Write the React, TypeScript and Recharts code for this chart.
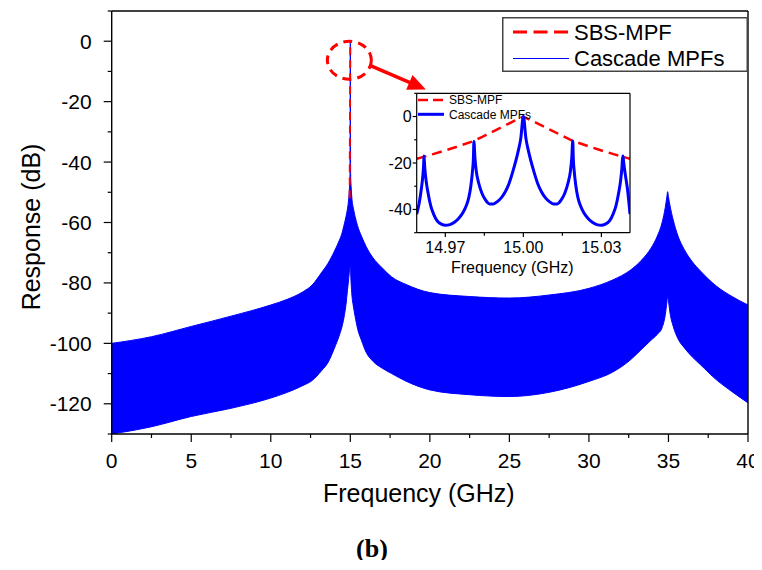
import React from 'react';
import { ComposedChart, Area, Line, XAxis, YAxis, ReferenceDot, ReferenceLine, Legend } from 'recharts';

// ---------- main plot data ----------
const freqGHz = [0, 2.5, 5, 7.5, 10, 11, 12, 12.6, 13.2, 13.6, 14.0, 14.3, 14.45, 14.6, 14.73, 14.82, 14.9, 14.95, 14.98, 15.0, 15.02, 15.05, 15.1, 15.2, 15.3, 15.45, 15.7, 16.0, 16.4, 17.0, 17.6, 18.5, 20, 22.5, 25, 27.5, 30, 31.5, 32.6, 33.3, 33.9, 34.3, 34.6, 34.8, 34.9, 34.95, 35.0, 35.1, 35.3, 35.6, 36.0, 36.5, 37.0, 38, 39, 40];
const cascadeUpperDb = [-100, -97.8, -94.4, -91, -87.3, -85.5, -83, -80.7, -76.5, -73.5, -69.5, -66, -64, -61, -58, -55.5, -52, -48, -44, 0, -44, -48, -52, -55.5, -58, -61, -64.5, -68, -71.5, -75, -78, -80.5, -83.2, -84.5, -85, -84, -81.8, -79, -75.8, -72.5, -68.5, -64.5, -60, -55, -51.5, -49.8, -51.5, -54.5, -59.2, -64.5, -69, -73, -76, -81, -84.5, -87.3];
const cascadeLowerDb = [-130, -127.6, -124.2, -121.5, -118.1, -116.3, -114, -112.3, -109, -106.3, -101.6, -97.5, -95, -91.5, -87, -82.5, -78.5, -75.8, -74.8, -74.5, -76.5, -80, -84, -88, -91, -95, -99, -103, -105.8, -108.2, -110, -112.5, -115.4, -117, -117.6, -116.2, -112.6, -109.5, -105.5, -102, -99, -97, -94.8, -90.5, -86.5, -84.5, -86, -90, -94.4, -98.5, -101.5, -104.5, -107, -112, -116, -119.7];
const sbsMainFreqGHz = [14.96, 15.0];
const sbsMainDb = [-52, 0];

const mainXMajorTicks = [0, 5, 10, 15, 20, 25, 30, 35, 40];
const mainXMinorTicks = [2.5, 7.5, 12.5, 17.5, 22.5, 27.5, 32.5, 37.5];
const mainYMajorTicks = [0, -20, -40, -60, -80, -100, -120];
const mainYMinorTicks = [10, -10, -30, -50, -70, -90, -110, -130];
const mainTopTicks = [4, 8, 12, 16, 20, 24, 28, 32, 36];
const mainRightTicks = [-4, -18, -32, -46, -60, -74, -88, -102, -116];

// ---------- inset data ----------
const insetCascadeFreqGHz = [
  14.959, 14.96, 14.9608, 14.9614, 14.9617, 14.9618, 14.9621, 14.9626, 14.9633, 14.9644, 14.9655, 14.9668, 14.9685, 14.970, 14.9718, 14.9735, 14.9752, 14.9768, 14.978, 14.979, 14.9798, 14.9804, 14.9808, 14.981,
  14.9814, 14.9819, 14.9828, 14.984, 14.9855, 14.987, 14.9885, 14.990, 14.9915, 14.993, 14.9945, 14.996, 14.998, 14.999, 15.0,
  15.001, 15.002, 15.004, 15.0055, 15.007, 15.0085, 15.010, 15.0115, 15.013, 15.0145, 15.016, 15.0172, 15.0181, 15.0186, 15.019,
  15.0192, 15.0196, 15.0202, 15.021, 15.022, 15.0232, 15.0248, 15.0265, 15.0282, 15.030, 15.0315, 15.0332, 15.0345, 15.0356, 15.0367, 15.0374, 15.0379, 15.0382, 15.0383, 15.0386, 15.0392, 15.040, 15.041,
];
const insetCascadeDb = [
  -42, -37, -31, -25, -20, -17, -22, -27.5, -32.5, -38.5, -42, -44.8, -46.3, -46.8, -46.5, -45.5, -43.8, -41.3, -38.5, -35, -30, -24, -18, -10.7,
  -18, -23.5, -28.5, -32.8, -36, -37.6, -37.6, -36.6, -35, -32.5, -28.8, -23.5, -15, -9.5, 0,
  -9.5, -15, -23.5, -28.8, -32.5, -35, -36.6, -37.6, -37.6, -36, -32.8, -28.5, -23.5, -18, -10.5,
  -18, -24, -30, -35, -38.5, -41.3, -43.8, -45.5, -46.5, -46.8, -46.3, -44.8, -42, -38.5, -32.5, -27.5, -22, -17, -17, -20, -25, -31, -42,
];
const insetSbsFreqGHz = [14.959, 14.965, 14.970, 14.975, 14.981, 14.985, 14.990, 14.995, 15.0, 15.005, 15.010, 15.015, 15.019, 15.025, 15.030, 15.035, 15.041];
const insetSbsDb = [-18.2, -16.3, -14.6, -12.8, -10.5, -8.3, -5.5, -2.7, 0, -2.7, -5.5, -8.3, -10.5, -12.8, -14.6, -16.3, -18.2];

const insetXMajorTicks = [14.97, 15.0, 15.03];
const insetXMinorTicks = [14.985, 15.015];
const insetYMajorTicks = [0, -20, -40];
const insetYMinorTicks = [10, -10, -30, -50];
const insetRightTicks = [5, 0, -5, -10, -15, -20, -25, -30, -35, -40, -45];

const seriesNames = ['SBS-MPF', 'Cascade MPFs'];
const RED = '#ff0000';
const BLUE = '#0000ff';
const FONT = '"Liberation Sans", Arial, Helvetica, sans-serif';

const bandData = freqGHz.map((f, i) => ({ f, band: [cascadeLowerDb[i], cascadeUpperDb[i]] }));
const sbsMainData = sbsMainFreqGHz.map((f, i) => ({ f, db: sbsMainDb[i] }));
const insetCascadeData = insetCascadeFreqGHz.map((f, i) => ({ f, db: insetCascadeDb[i] }));
const insetSbsData = insetSbsFreqGHz.map((f, i) => ({ f, db: insetSbsDb[i] }));

const isIn = (arr: number[], v: number) => arr.some((m) => Math.abs(m - v) < 1e-9);

const makeBottomTick = (majors: number[], majorLen: number, minorLen: number, fs: number, topGap: number, digits: number) => (props: any) => {
  const { x, y, payload } = props;
  const v = payload.value;
  const major = isIn(majors, v);
  return (
    <g>
      <line x1={x} x2={x} y1={y} y2={y + (major ? majorLen : minorLen)} stroke="#000" strokeWidth={1.2} />
      {major && (
        <text x={x} y={y + topGap + 0.716 * fs} textAnchor="middle" fontSize={fs} fontFamily={FONT} fill="#000">
          {v.toFixed(digits)}
        </text>
      )}
    </g>
  );
};

const makeLeftTick = (majors: number[], majorLen: number, minorLen: number, fs: number, gap: number) => (props: any) => {
  const { x, y, payload } = props;
  const v = payload.value;
  const major = isIn(majors, v);
  return (
    <g>
      <line x1={x} x2={x - (major ? majorLen : minorLen)} y1={y} y2={y} stroke="#000" strokeWidth={1.2} />
      {major && (
        <text x={x - gap} y={y + 0.358 * fs} textAnchor="end" fontSize={fs} fontFamily={FONT} fill="#000">
          {String(v)}
        </text>
      )}
    </g>
  );
};

const makeTopTick = (len: number) => (props: any) => {
  const { x, y } = props;
  return <line x1={x} x2={x} y1={y} y2={y + len} stroke="#555" strokeWidth={1} />;
};
const makeRightTick = (len: number) => (props: any) => {
  const { x, y } = props;
  return <line x1={x} x2={x - len} y1={y} y2={y} stroke="#555" strokeWidth={1} />;
};

const EllipseShape = (props: any) => (
  <ellipse cx={props.cx} cy={props.cy} rx={22} ry={19} fill="none" stroke={RED} strokeWidth={3} strokeDasharray="9 6" />
);

const ArrowShape = (props: any) => {
  const { x1, y1, x2, y2 } = props;
  const dx = x2 - x1;
  const dy = y2 - y1;
  const L = Math.hypot(dx, dy) || 1;
  const ux = dx / L;
  const uy = dy / L;
  const headLen = 18;
  const headW = 8;
  const bx = x2 - ux * headLen;
  const by = y2 - uy * headLen;
  const px = -uy;
  const py = ux;
  return (
    <g>
      <line x1={x1} y1={y1} x2={bx + ux * 2} y2={by + uy * 2} stroke={RED} strokeWidth={3.5} />
      <polygon points={`${x2},${y2} ${bx + px * headW},${by + py * headW} ${bx - px * headW},${by - py * headW}`} fill={RED} />
    </g>
  );
};

const MainLegend = () => (
  <svg width={246} height={55} style={{ display: 'block' }}>
    <rect x={0.75} y={0.75} width={244.5} height={53.5} fill="#fff" stroke="#444" strokeWidth={1.5} />
    <line x1={11} x2={67} y1={15} y2={15} stroke={RED} strokeWidth={3} strokeDasharray="14 6.5" />
    <text x={72} y={15 + 7.8} fontSize={22} fontFamily={FONT} fill="#000">{seriesNames[0]}</text>
    <line x1={11} x2={67} y1={41.5} y2={41.5} stroke={BLUE} strokeWidth={1.2} />
    <text x={72} y={41.5 + 7.8} fontSize={22} fontFamily={FONT} fill="#000">{seriesNames[1]}</text>
  </svg>
);

const InsetLegend = () => (
  <svg width={120} height={30} style={{ display: 'block' }}>
    <line x1={0} x2={26} y1={6} y2={6} stroke={RED} strokeWidth={2.5} strokeDasharray="10 5" />
    <text x={31} y={6 + 4.3} fontSize={12} fontFamily={FONT} fill="#000">{seriesNames[0]}</text>
    <line x1={0} x2={26} y1={20.3} y2={20.3} stroke={BLUE} strokeWidth={3} />
    <text x={31} y={20.3 + 4.3} fontSize={12} fontFamily={FONT} fill="#000">{seriesNames[1]}</text>
  </svg>
);

const MainXTitle = (props: any) => {
  const vb = props.viewBox;
  return (
    <text x={vb.x + vb.width / 2 - 11} y={vb.y + 68} textAnchor="middle" fontSize={25} fontFamily={FONT} fill="#000">
      Frequency (GHz)
    </text>
  );
};
const MainYTitle = (props: any) => {
  const vb = props.viewBox;
  const cx = vb.x + 28.5;
  const cy = vb.y + vb.height / 2 + 4.5;
  return (
    <text x={cx} y={cy} transform={`rotate(-90, ${cx}, ${cy})`} textAnchor="middle" fontSize={25} fontFamily={FONT} fill="#000">
      Response (dB)
    </text>
  );
};
const InsetXTitle = (props: any) => {
  const vb = props.viewBox;
  return (
    <text x={vb.x + vb.width / 2 - 11} y={vb.y + 40.6} textAnchor="middle" fontSize={16} fontFamily={FONT} fill="#000">
      Frequency (GHz)
    </text>
  );
};

export default function App() {
  return (
    <div style={{ position: 'relative', width: 754, height: 552, fontFamily: FONT, background: '#fff' }}>
      <style>{'svg.recharts-surface{overflow:visible;}'}</style>
      <ComposedChart width={754} height={520} margin={{ top: 2, right: 13, bottom: 14, left: 3.7 }}>
        <XAxis
          xAxisId="x"
          dataKey="f"
          type="number"
          domain={[0, 40]}
          allowDataOverflow
          ticks={[...mainXMajorTicks, ...mainXMinorTicks].sort((a, b) => a - b)}
          interval={0}
          height={80}
          tickSize={0}
          tickMargin={0}
          tickLine={false}
          axisLine={{ stroke: '#000', strokeWidth: 1.4 }}
          tick={makeBottomTick(mainXMajorTicks, 8, 4, 21, 19.3, 0)}
          label={MainXTitle}
        />
        <XAxis
          xAxisId="top"
          orientation="top"
          dataKey="f"
          type="number"
          domain={[0, 40]}
          ticks={mainTopTicks}
          interval={0}
          height={1}
          tickSize={0}
          tickMargin={0}
          tickLine={false}
          axisLine={{ stroke: '#000', strokeWidth: 1.4 }}
          tick={makeTopTick(2)}
        />
        <YAxis
          yAxisId="y"
          type="number"
          domain={[-130, 10]}
          allowDataOverflow
          ticks={[...mainYMajorTicks, ...mainYMinorTicks].sort((a, b) => a - b)}
          interval={0}
          width={100}
          tickSize={0}
          tickMargin={0}
          tickLine={false}
          axisLine={{ stroke: '#000', strokeWidth: 1.4 }}
          tick={makeLeftTick(mainYMajorTicks, 8, 4, 21, 20)}
          label={MainYTitle}
        />
        <YAxis
          yAxisId="right"
          orientation="right"
          type="number"
          domain={[-130, 10]}
          ticks={mainRightTicks}
          interval={0}
          width={1}
          tickSize={0}
          tickMargin={0}
          tickLine={false}
          axisLine={{ stroke: '#000', strokeWidth: 1.4 }}
          tick={makeRightTick(2.5)}
        />
        <Area
          xAxisId="x"
          yAxisId="y"
          data={bandData}
          dataKey="band"
          name={seriesNames[1]}
          type="monotone"
          fill={BLUE}
          fillOpacity={1}
          stroke={BLUE}
          strokeWidth={1}
          dot={false}
          activeDot={false}
          isAnimationActive={false}
        />
        <Line
          xAxisId="x"
          yAxisId="y"
          data={sbsMainData}
          dataKey="db"
          name={seriesNames[0]}
          type="linear"
          stroke={RED}
          strokeWidth={2}
          strokeDasharray="8 5"
          dot={false}
          activeDot={false}
          isAnimationActive={false}
        />
        <ReferenceDot xAxisId="x" yAxisId="y" x={14.94} y={-6.3} r={20} shape={EllipseShape} />
        <ReferenceLine
          xAxisId="x"
          yAxisId="y"
          segment={[{ x: 16.19, y: -7.9 }, { x: 19.75, y: -16 }]}
          shape={ArrowShape}
        />
        <Legend
          verticalAlign="middle"
          align="center"
          layout="vertical"
          width={246}
          height={55}
          wrapperStyle={{ top: 8.7, left: 493.7, bottom: 'auto', right: 'auto', margin: 0 }}
          content={() => <MainLegend />}
        />
      </ComposedChart>

      <div style={{ position: 'absolute', left: 352, top: 72 }}>
        <ComposedChart width={290} height={205} margin={{ top: 12.3, right: 19, bottom: 4.3, left: 6.7 }}>
          <XAxis
            xAxisId="x"
            dataKey="f"
            type="number"
            domain={[14.959, 15.041]}
            allowDataOverflow
            ticks={[...insetXMajorTicks, ...insetXMinorTicks].sort((a, b) => a - b)}
            interval={0}
            height={48}
            tickSize={0}
            tickMargin={0}
            tickLine={false}
            axisLine={{ stroke: '#000', strokeWidth: 1.2 }}
            tick={makeBottomTick(insetXMajorTicks, 4.3, 3, 16, 9, 2)}
            label={InsetXTitle}
          />
          <XAxis
            xAxisId="top"
            orientation="top"
            dataKey="f"
            type="number"
            domain={[14.959, 15.041]}
            ticks={insetXMinorTicks}
            interval={0}
            height={1}
            tickSize={0}
            tickMargin={0}
            tickLine={false}
            axisLine={{ stroke: '#000', strokeWidth: 1.2 }}
            tick={makeTopTick(1.5)}
          />
          <YAxis
            yAxisId="y"
            type="number"
            domain={[-50, 10]}
            allowDataOverflow
            ticks={[...insetYMajorTicks, ...insetYMinorTicks].sort((a, b) => a - b)}
            interval={0}
            width={50}
            tickSize={0}
            tickMargin={0}
            tickLine={false}
            axisLine={{ stroke: '#000', strokeWidth: 1.2 }}
            tick={makeLeftTick(insetYMajorTicks, 4, 2.5, 16, 5)}
          />
          <YAxis
            yAxisId="right"
            orientation="right"
            type="number"
            domain={[-50, 10]}
            ticks={insetRightTicks}
            interval={0}
            width={1}
            tickSize={0}
            tickMargin={0}
            tickLine={false}
            axisLine={{ stroke: '#000', strokeWidth: 1.2 }}
            tick={makeRightTick(2.5)}
          />
          <Line
            xAxisId="x"
            yAxisId="y"
            data={insetSbsData}
            dataKey="db"
            name={seriesNames[0]}
            type="linear"
            stroke={RED}
            strokeWidth={2.5}
            strokeDasharray="10 6"
            dot={false}
            activeDot={false}
            isAnimationActive={false}
          />
          <Line
            xAxisId="x"
            yAxisId="y"
            data={insetCascadeData}
            dataKey="db"
            name={seriesNames[1]}
            type="monotone"
            stroke={BLUE}
            strokeWidth={3}
            dot={false}
            activeDot={false}
            isAnimationActive={false}
          />
          <Legend
            verticalAlign="middle"
            align="center"
            layout="vertical"
            width={120}
            height={30}
            wrapperStyle={{ top: 14, left: 58, bottom: 'auto', right: 'auto', margin: 0 }}
            content={() => <InsetLegend />}
          />
        </ComposedChart>
      </div>

      <div
        style={{
          position: 'absolute',
          left: 0,
          width: 728,
          top: 526,
          textAlign: 'center',
          fontFamily: '"Liberation Serif", "Times New Roman", serif',
          fontWeight: 'bold',
          fontSize: 26,
          lineHeight: '30px',
        }}
      >
        (b)
      </div>
    </div>
  );
}
